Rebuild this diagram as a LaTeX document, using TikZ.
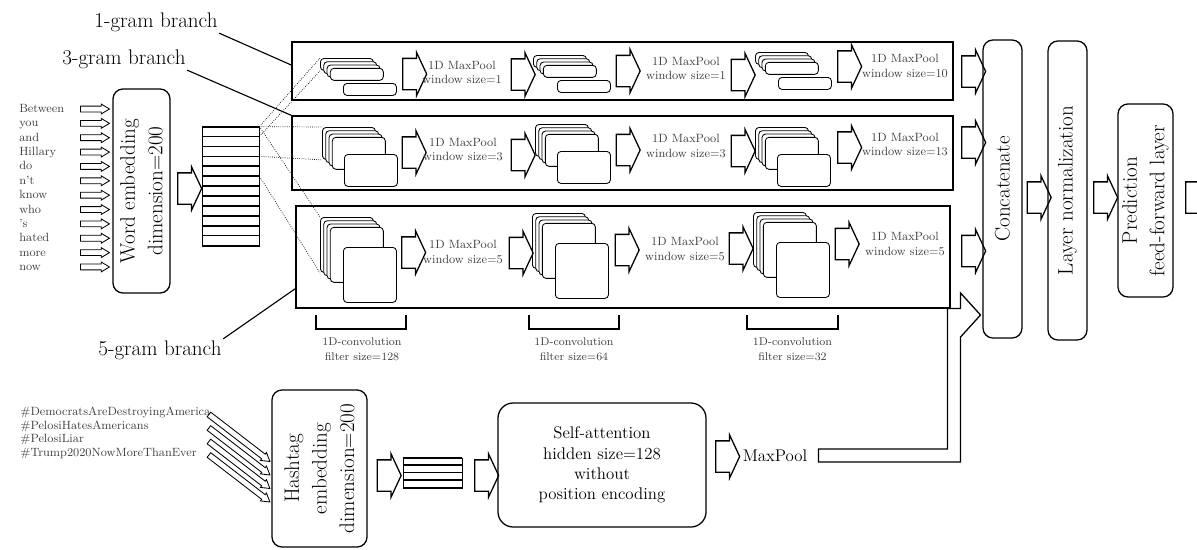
\documentclass[tikz,border=0pt]{standalone}
\usepackage{fontspec}
\usepackage{tikz}
\usetikzlibrary{shapes.arrows,calc}

\begin{document}
\begin{tikzpicture}[
    x=0.025cm, y=-0.025cm,
    branch/.style={draw, line width=1pt, inner sep=0pt},
    block/.style={draw, rounded corners=0.25cm, line width=0.9pt, inner sep=0pt,
                  align=center, font=\fontsize{15}{19.5}\selectfont},
    fmap/.style={draw, fill=white, rounded corners=0.09cm, line width=0.6pt,
                 minimum width=1.325cm, inner sep=0pt},
    fat/.style={single arrow, draw, line width=0.9pt, inner xsep=0pt, inner ysep=0.375cm,
                minimum height=0.6cm, minimum width=0pt,
                single arrow head extend=0.15cm, single arrow tip angle=130},
    slim/.style={single arrow, draw, line width=0.6pt, inner xsep=0pt, inner ysep=0.0625cm,
                 minimum width=0pt, single arrow head extend=0.05cm,
                 single arrow tip angle=62},
    word/.style={font=\fontsize{8.5}{10}\selectfont, text=black!75, inner sep=0pt},
    pool/.style={font=\fontsize{8.5}{10.3}\selectfont, text=black!75,
                 align=center, inner sep=0pt},
    conv/.style={font=\fontsize{8}{10.6}\selectfont, text=black!75,
                 align=center, inner sep=0pt},
    gram/.style={font=\fontsize{15}{18}\selectfont, inner sep=1pt},
    dotline/.style={densely dotted, line width=0.5pt},
    lead/.style={line width=0.8pt}
]
\useasboundingbox (0,0) rectangle (1197,549);
\clip (0,0) rectangle (1197,549);

% Input words and their arrows
\foreach \w [count=\i from 0] in {Between,you,and,Hillary,do,n't,know,who,'s,hated,more,now}{
    \node[word, anchor=base west] (w\i) at (19,112.5+14.36*\i) {\w};
    \node[slim, minimum height=0.725cm] (wa\i) at (92.5,109+14.36*\i) {};
}

% Word embedding
\node[block, rotate=90, minimum width=5.1cm, minimum height=1.425cm] (wemb) at (141.5,191) {
    Word embedding\\dimension=200
};
\node[fat] (ea) at (186,188.5) {};

% Embedding matrix
\node[draw, line width=0.6pt, minimum width=1.425cm, minimum height=2.975cm, inner sep=0pt] (wmat) at (230.5,186.5) {};
\foreach \r in {0,...,12}
    \draw[line width=1.1pt] ([yshift={-\r*0.2479cm}]wmat.north west) -- ([yshift={-\r*0.2479cm}]wmat.north east);

% Branch boxes
\node[branch, minimum width=16.525cm, minimum height=1.45cm] (onegram) at (622.5,71) {};
\node[branch, minimum width=16.525cm, minimum height=1.85cm] (threegram) at (622.5,153) {};
\node[branch, minimum width=16.35cm, minimum height=2.55cm] (fivegram) at (623,257) {};

% Feature maps (back layer corner, height, offset of front map)
\foreach \gx/\gy/\gh/\bx/\by/\nm in {
    320/58/12/23/25/g11, 533/55/12/24/25/g12, 755/52/12/23/25/g13,
    322/127/32/22/27/g31, 535/124/32/22/27/g32, 755/127/32/22/27/g33,
    320/217/55/23/30/g51, 532/213/55/23/30/g52, 753/212/55/23/30/g53}{
    \node[fmap, minimum height=\gh*0.025cm, anchor=north west] (\nm) at (\gx,\gy) {};
    \foreach \k in {1,2,3}
        \node[fmap, minimum height=\gh*0.025cm, anchor=north west] (\nm-\k) at (\gx+3.3*\k,\gy+3.3*\k) {};
    \node[fmap, minimum height=\gh*0.025cm, anchor=north west] (\nm-big) at (\gx+\bx,\gy+\by) {};
}

% Windows taken from the matrix
\draw[dotline] (wmat.north east) -- (g11.north west);
\draw[dotline] ([yshift=-0.248cm]wmat.north east) -- (g11.south west);
\draw[dotline] (wmat.north east) -- (g31.north west);
\draw[dotline] ([yshift=-0.744cm]wmat.north east) -- (g31.south west);
\draw[dotline] (wmat.north east) -- (g51.north west);
\draw[dotline] ([yshift=-1.24cm]wmat.north east) -- (g51.south west);

% Arrows inside the branches
\foreach \ax/\ay/\nm in {
    411/74/r1a1, 519.5/74.5/r1a2, 624.5/71/r1a3, 739.5/75/r1a4, 846/66.5/r1a5, 970/71.5/r1a6,
    410.5/152.5/r3a1, 519.5/155/r3a2, 624.5/150/r3a3, 739.5/151/r3a4, 846/147.5/r3a5, 970/142.5/r3a6,
    410/252.5/r5a1, 517.5/253/r5a2, 623.5/250/r5a3, 737.5/248.5/r5a4, 843.5/244/r5a5, 970/251/r5a6}
    \node[fat] (\nm) at (\ax,\ay) {};

% Pooling labels
\node[pool] (p11) at (462,72.5) {1D MaxPool\\window size=1};
\node[pool] (p12) at (686,68.5) {1D MaxPool\\window size=1};
\node[pool] (p13) at (905,66) {1D MaxPool\\window size=10};
\node[pool] (p31) at (463,149.5) {1D MaxPool\\window size=3};
\node[pool] (p32) at (686,146) {1D MaxPool\\window size=3};
\node[pool] (p33) at (905,144.5) {1D MaxPool\\window size=13};
\node[pool] (p51) at (463,252) {1D MaxPool\\window size=5};
\node[pool] (p52) at (685,249) {1D MaxPool\\window size=5};
\node[pool] (p53) at (905,244) {1D MaxPool\\window size=5};

% Convolution brackets
\draw[line width=0.8pt] (316,315) -- (316,329) -- (406,329) -- (406,315);
\draw[line width=0.8pt] (529,315) -- (529,329) -- (619,329) -- (619,315);
\draw[line width=0.8pt] (747,315) -- (747,329) -- (838,329) -- (838,315);
\node[conv] (c1) at (362,349.5) {1D-convolution\\filter size=128};
\node[conv] (c2) at (574,349.5) {1D-convolution\\filter size=64};
\node[conv] (c3) at (792.5,349.5) {1D-convolution\\filter size=32};

% Branch names
\node[gram] (lbl1) at (156,22) {1-gram branch};
\node[gram] (lbl3) at (124,59) {3-gram branch};
\node[gram] (lbl5) at (160,350) {5-gram branch};
\draw[lead] (lbl1.south east) -- ([yshift=0.15cm]onegram.west);
\draw[lead] (lbl3.south east) -- (threegram.north west);
\draw[lead] (lbl5.north east) -- ([yshift=0.5cm]fivegram.south west);

% Right column: merge and output
\node[block, rotate=90, minimum width=7.45cm, minimum height=0.975cm] (concat) at (1002.5,189) {Concatenate};
\node[block, rotate=90, minimum width=7.475cm, minimum height=0.975cm] (lnorm) at (1067.5,190.5) {Layer normalization};
\node[block, rotate=90, minimum width=4.825cm, minimum height=1.375cm] (pred) at (1145.5,200.5) {
    Prediction\\feed-forward layer
};
\node[fat] (cl) at (1035.5,197.5) {};
\node[fat] (lp) at (1102,197.5) {};
\node[fat] (out) at (1194,197.5) {};

% Bottom: hashtags
\foreach \h [count=\i from 0] in {\#DemocratsAreDestroyingAmerica,\#PelosiHatesAmericans,\#PelosiLiar,\#Trump2020NowMoreThanEver}{
    \node[word, anchor=base west] (h\i) at (20,415.5+13.7*\i) {\h};
    \node[slim, minimum height=1.925cm, rotate=-37.6] (ha\i) at (237.5,436.5+13.5*\i) {};
}

\node[block, rotate=90, minimum width=3.925cm, minimum height=2.375cm] (hemb) at (319.5,468.5) {
    Hashtag\\embedding\\dimension=200
};
\node[fat] (hm) at (385.5,475.5) {};

\node[draw, line width=0.6pt, minimum width=1.475cm, minimum height=0.75cm, inner sep=0pt] (hmat) at (432.5,473) {};
\foreach \r in {0,...,4}
    \draw[line width=1.1pt] ([yshift={-\r*0.1875cm}]hmat.north west) -- ([yshift={-\r*0.1875cm}]hmat.north east);
\node[fat] (ms) at (483,475.5) {};

\node[block, rounded corners=0.38cm, font=\fontsize{12}{14.4}\selectfont,
      minimum width=5.2cm, minimum height=3.1cm] (selfatt) at (602,465) {
    Self-attention\\hidden size=128\\without\\position encoding
};
\node[fat] (sm) at (724,456.5) {};
\node[font=\fontsize{12}{14.4}\selectfont, inner sep=0pt] (mpool) at (775,455.5) {MaxPool};

% Elbow arrow from MaxPool into Concatenate
\draw[line width=0.9pt] ([xshift=0.275cm]mpool.east) ++(0,-6.5) -- ++(129,0) -- ++(0,-140.5)
    -- ++(13,0) -- ++(0,-15.5) -- ++(20,22) -- ++(-20,22) -- ++(0,125) -- ++(-142,0) -- cycle;

\end{tikzpicture}
\end{document}
